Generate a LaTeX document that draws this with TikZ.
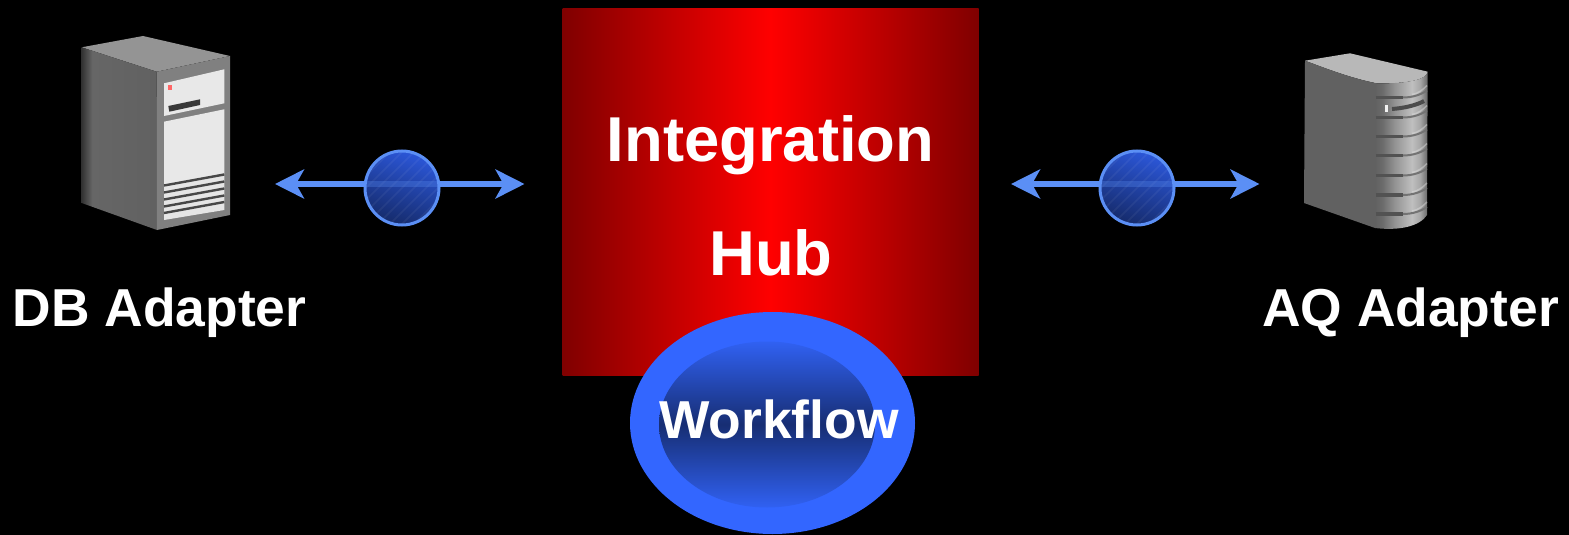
\documentclass[tikz,border=0pt]{standalone}
\usepackage{fontspec}
\setmainfont{Liberation Sans}
\usetikzlibrary{arrows.meta,shapes.geometric}
\definecolor{linkblue}{HTML}{5B8FF5}
\definecolor{wfblue}{HTML}{3366FF}
\pgfdeclarehorizontalshading{hubred}{100bp}{color(0bp)=(red!50!black); color(25bp)=(red!50!black); color(50bp)=(red); color(75bp)=(red!50!black); color(100bp)=(red!50!black)}
\pgfdeclarehorizontalshading{towerfront}{100bp}{color(0bp)=(black!62); color(25bp)=(black!62); color(32bp)=(black!58); color(44bp)=(black!42); color(60bp)=(black!25); color(68bp)=(black!35); color(75bp)=(black!60); color(100bp)=(black!60)}
\pgfdeclarehorizontalshading{caseleft}{100bp}{color(0bp)=(black!80); color(25bp)=(black!80); color(32bp)=(black!60); color(75bp)=(black!62); color(100bp)=(black!62)}
\tikzset{
  label text/.style={text=white,font=\bfseries\fontsize{#1}{#1}\selectfont,anchor=base,inner sep=0pt},
  link/.style={draw=linkblue,line width=5.5pt,{Stealth[length=29pt,width=29pt,inset=8pt]}-{Stealth[length=29pt,width=29pt,inset=8pt]}},
  linkover/.style={draw=linkblue,line width=5.5pt,opacity=.3},
  bead/.style={circle,minimum size=74pt,inner sep=0pt,draw=linkblue,line width=3pt,top color=wfblue!85!black,bottom color=wfblue!42!black,shading angle=-20},
  sheen/.style={draw=white,line width=1.5pt,opacity=.05},
  panel/.style={fill=black!9},
  vent/.style={draw=black!72,line width=2.4pt},
  groove/.style={draw=black!68,line width=3.5pt},
  glint/.style={draw=black!12,line width=1.5pt}
}
\begin{document}
\begin{tikzpicture}[x=1pt,y=-1pt]
\useasboundingbox (0,0) rectangle (1569,535);
\fill[black] (0,0) rectangle (1569,535);

% DB server
\fill[black!42] (81.7,47.3) -- (143,36) -- (230,56) -- (156.7,71.7) -- cycle;
\shade[shading=caseleft] (81.7,47.3) -- (156.7,71.7) -- (157,230) -- (81.7,203) -- cycle;
\fill[black!50] (156.7,71.7) -- (230,56) -- (230,215) -- (157,230) -- cycle;
\fill[panel] (164,83.3) -- (224.3,69.3) -- (224.3,103.3) -- (164,116) -- cycle;
\fill[panel] (164,121.7) -- (224.3,109.3) -- (224.3,173.3) -- (164,185) -- cycle;
\fill[black!10] (164,185) -- (224.3,173.3) -- (224.3,210) -- (164,220) -- cycle;
\draw[vent] (164,185.5) -- (224.3,174.5);
\draw[vent] (164,192.5) -- (224.3,181.5);
\draw[vent] (164,199.5) -- (224.3,188.5);
\draw[vent] (164,206.5) -- (224.3,195.5);
\draw[vent] (164,213) -- (224.3,202);
\fill[black!78] (168.3,106) -- (200,99.3) -- (200,105) -- (169.3,111.7) -- cycle;
\fill[red!60!white] (168,85) rectangle (172,90);

% AQ server
\fill[black!28] (1305,60.7) -- (1350,53.3) -- (1427.7,71.7) .. controls (1427,80) and (1405,84) .. (1376.7,83.3) .. controls (1350,78) and (1325,68) .. (1305,60.7) -- cycle;
\fill[black!62] (1305,60.7) .. controls (1325,68) and (1350,78) .. (1376.7,83.3) -- (1375,228) -- (1304,203) -- cycle;
\shade[shading=towerfront] (1375.5,83.3) .. controls (1405,84) and (1427,80) .. (1427.7,71.7) -- (1427,215) .. controls (1420,226) and (1400,231) .. (1375,228) -- cycle;
\foreach \yy in {97.5,117.5,136.5,155.5,175.5,195,214}{
  \draw[groove] (1375.5,\yy) -- (1403,\yy);
  \draw[draw=black!55,line width=2pt] (1403,\yy) .. controls (1413,\yy) and (1421,\yy-3) .. (1427,\yy-7);
  \draw[glint,opacity=.45] (1412,\yy-3) .. controls (1418,\yy-4) and (1422,\yy-7) .. (1427,\yy-12);
}
\draw[draw=black!70,line width=4pt] (1392,109) .. controls (1405,108) and (1417,105) .. (1424,101);
\fill[black!5] (1385,105) rectangle (1388,112);

% Hub
\shade[shading=hubred] (562.5,8.5) rectangle (978.5,375.5);
\node[label text=63.4] (hubA) at (770.5,161.5) {Integration};
\node[label text=63.4] (hubB) at (771,275.5) {Hub};

% Workflow
\node[ellipse,fill=wfblue,minimum width=285pt,minimum height=222pt,inner sep=0pt] (wfouter) at (772.5,423) {};
\node[ellipse,minimum width=216pt,minimum height=166pt,inner sep=0pt,top color=wfblue!95!black,bottom color=wfblue!95!black,middle color=wfblue!45!black] (wfinner) at (767,424.5) {};
\node[label text=53.4] (wftext) at (779,438) {Workflow};

% Links
\coordinate (dbend) at (275,184);
\coordinate (hubwest) at (524.5,184);
\coordinate (hubeast) at (1011,184);
\coordinate (aqend) at (1259.5,184);
\draw[link] (dbend) -- (hubwest);
\draw[link] (hubeast) -- (aqend);
\node[bead] (beadA) at (402,188) {};
\node[bead] (beadB) at (1137,188) {};
\begin{scope}
\clip (402,188) circle (35.5pt);
\foreach \dd in {-60,-48,...,60}{\draw[sheen] (402+\dd-40,228) -- (402+\dd+40,148);}
\end{scope}
\begin{scope}
\clip (1137,188) circle (35.5pt);
\foreach \dd in {-60,-48,...,60}{\draw[sheen] (1137+\dd-40,228) -- (1137+\dd+40,148);}
\end{scope}
\draw[linkover] (beadA.west |- dbend) -- (beadA.east |- dbend);
\draw[linkover] (beadB.west |- dbend) -- (beadB.east |- dbend);

% Labels
\node[label text=53.4] (dblabel) at (159.5,326) {DB Adapter};
\node[label text=53.4] (aqlabel) at (1410.5,326) {AQ Adapter};
\end{tikzpicture}
\end{document}
